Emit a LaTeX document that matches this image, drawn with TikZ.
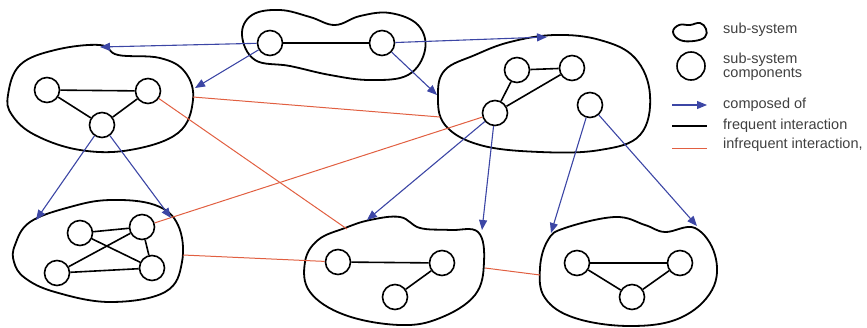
\documentclass[tikz,border=0pt]{standalone}
\usepackage{fontspec}
\setmainfont{Liberation Sans}
\usetikzlibrary{arrows.meta}
\definecolor{composedblue}{RGB}{60,70,165}
\definecolor{infreqred}{RGB}{225,95,65}

\begin{document}
\begin{tikzpicture}[x=1pt,y=-1pt,
	comp_node/.style={circle,draw,fill=white,line width=1.6pt,minimum size=25pt,inner sep=0pt},
	blob_line/.style={line width=1.8pt,line join=round},
	freq_line/.style={line width=1.6pt},
	infreq_line/.style={infreqred,line width=1pt},
	comp_arrow/.style={composedblue,line width=1.1pt,-{Triangle[length=10pt,width=8pt]}},
	legend_text/.style={anchor=west,inner sep=0pt,text=black!75,font=\fontsize{14.5}{16}\selectfont,align=left}]
		
		\useasboundingbox (0,0) rectangle (867,327);
		
		% sub-system outlines
		\draw[blob_line] plot[smooth cycle,tension=0.65] coordinates {(242,35) (252,15) (280,10) (310,17) (335,25) (360,16) (390,13) (418,25) (425,50) (408,75) (370,80) (330,75) (290,66) (255,60)};
		\draw[blob_line] plot[smooth cycle,tension=0.65] coordinates {(8,95) (20,65) (55,50) (100,45) (118,55) (160,58) (185,72) (193,100) (178,133) (130,150) (80,150) (35,135) (12,115)};
		\draw[blob_line] plot[smooth cycle,tension=0.65] coordinates {(438,95) (445,70) (475,55) (510,42) (555,35) (600,40) (635,58) (650,95) (640,135) (600,150) (540,152) (480,145) (445,125)};
		\draw[blob_line] plot[smooth cycle,tension=0.65] coordinates {(15,245) (30,222) (70,207) (110,200) (155,205) (178,225) (182,262) (165,292) (110,302) (55,292) (25,278) (14,262)};
		\draw[blob_line] plot[smooth cycle,tension=0.65] coordinates {(305,262) (318,240) (345,228) (370,220) (400,217) (420,228) (450,230) (478,232) (484,262) (475,295) (440,318) (400,325) (345,315) (310,292)};
		\draw[blob_line] plot[smooth cycle,tension=0.65] coordinates {(540,268) (548,240) (565,228) (615,217) (645,225) (665,232) (695,228) (715,255) (712,290) (680,318) (630,326) (575,318) (545,298)};
		
		% free ends on the outlines
		\coordinate (lTop) at (100,47);
		\coordinate (lRight) at (195,88);
		\coordinate (rTop) at (547,37);
		\coordinate (rLeft) at (437,95);
		\coordinate (blTopL) at (36,220);
		\coordinate (blTopR) at (171,218);
		\coordinate (bmTopL) at (367,220);
		\coordinate (bmTopR) at (482,230);
		\coordinate (brTopL) at (551,233);
		\coordinate (brTopR) at (697,226);
		\coordinate (lEdge) at (193,97);
		\coordinate (rEdge) at (440,117);
		\coordinate (bmEdge) at (347,229);
		\coordinate (blEdge) at (183,255);
		\coordinate (bmRight) at (485,268);
		\coordinate (brLeft) at (540,275);
		
		% components
		\node[comp_node] (t1) at (270,43) {};
		\node[comp_node] (t2) at (382,43) {};
		\node[comp_node] (l1) at (47,90) {};
		\node[comp_node] (l2) at (148,91) {};
		\node[comp_node] (l3) at (102,125) {};
		\node[comp_node] (r1) at (517,70) {};
		\node[comp_node] (r2) at (572,68) {};
		\node[comp_node] (r3) at (590,105) {};
		\node[comp_node] (r4) at (495,113) {};
		\node[comp_node] (bl1) at (80,233) {};
		\node[comp_node] (bl2) at (142,227) {};
		\node[comp_node] (bl3) at (152,268) {};
		\node[comp_node] (bl4) at (57,273) {};
		\node[comp_node] (bm1) at (338,262) {};
		\node[comp_node] (bm2) at (442,263) {};
		\node[comp_node] (bm3) at (395,297) {};
		\node[comp_node] (br1) at (577,263) {};
		\node[comp_node] (br2) at (680,263) {};
		\node[comp_node] (br3) at (632,297) {};
		
		% frequent interaction
		\draw[freq_line] (t1) -- (t2);
		\draw[freq_line] (l1) -- (l2);
		\draw[freq_line] (l1) -- (l3);
		\draw[freq_line] (l2) -- (l3);
		\draw[freq_line] (r1) -- (r2);
		\draw[freq_line] (r1) -- (r4);
		\draw[freq_line] (r2) -- (r4);
		\draw[freq_line] (bl1) -- (bl2);
		\draw[freq_line] (bl1) -- (bl3);
		\draw[freq_line] (bl4) -- (bl2);
		\draw[freq_line] (bl4) -- (bl3);
		\draw[freq_line] (bl2) -- (bl3);
		\draw[freq_line] (bm1) -- (bm2);
		\draw[freq_line] (bm2) -- (bm3);
		\draw[freq_line] (br1) -- (br2);
		\draw[freq_line] (br1) -- (br3);
		\draw[freq_line] (br3) -- (br2);
		
		% infrequent interaction
		\draw[infreq_line] (l2) -- (bmEdge);
		\draw[infreq_line] (lEdge) -- (rEdge);
		\draw[infreq_line] (bl2) -- (r4);
		\draw[infreq_line] (blEdge) -- (bm1);
		\draw[infreq_line] (bmRight) -- (brLeft);
		
		% composed of
		\draw[comp_arrow] (t1) -- (lTop);
		\draw[comp_arrow] (t1) -- (lRight);
		\draw[comp_arrow] (t2) -- (rTop);
		\draw[comp_arrow] (t2) -- (rLeft);
		\draw[comp_arrow] (l3) -- (blTopL);
		\draw[comp_arrow] (l3) -- (blTopR);
		\draw[comp_arrow] (r4) -- (bmTopL);
		\draw[comp_arrow] (r4) -- (bmTopR);
		\draw[comp_arrow] (r3) -- (brTopL);
		\draw[comp_arrow] (r3) -- (brTopR);
		
		% legend
		\draw[blob_line] plot[smooth cycle,tension=0.7] coordinates {(673,32) (679,25) (690,25) (700,23) (706,29) (705,37) (694,41) (680,40)};
		\node[legend_text] (lgSub) at (723,30) {sub-system};
		\node[comp_node,minimum size=28pt] (lgComp) at (691,66) {};
		\node[legend_text] (lgCompText) at (723,67) {sub-system\\[-2pt]components};
		\coordinate (lgArrA) at (672,105);
		\coordinate (lgArrB) at (707,105);
		\draw[comp_arrow] (lgArrA) -- (lgArrB);
		\node[legend_text] (lgComposed) at (723,105) {composed of};
		\coordinate (lgFreqA) at (672,126);
		\coordinate (lgFreqB) at (707,126);
		\draw[freq_line] (lgFreqA) -- (lgFreqB);
		\node[legend_text] (lgFreq) at (723,126) {frequent interaction};
		\coordinate (lgInfA) at (672,148);
		\coordinate (lgInfB) at (707,148);
		\draw[infreq_line] (lgInfA) -- (lgInfB);
		\node[legend_text] (lgInf) at (723,145) {infrequent interaction,};
		\end{tikzpicture}
\end{document}
